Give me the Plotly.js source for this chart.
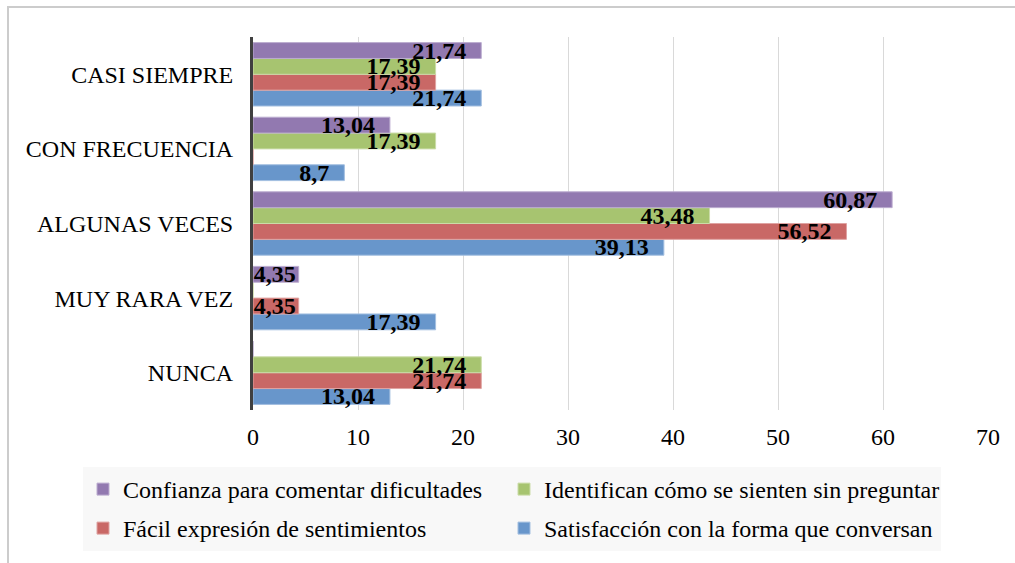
<!DOCTYPE html>
<html>
<head>
<meta charset="utf-8">
<script src="https://cdn.plot.ly/plotly-3.0.1.min.js"></script>
<style>html,body{margin:0;padding:0;background:#fff;}#chart{width:1015px;height:563px;}</style>
</head>
<body>
<div id="chart"></div>
<script>
// Categories, bottom to top
const categories = ['NUNCA', 'MUY RARA VEZ', 'ALGUNAS VECES', 'CON FRECUENCIA', 'CASI SIEMPRE'];

// Series values (same order as categories); 0 = no bar
const confianza    = [0,     4.35, 60.87, 13.04, 21.74];
const identifican  = [21.74, 0,    43.48, 17.39, 17.39];
const facil        = [21.74, 4.35, 56.52, 0,     17.39];
const satisfaccion = [13.04, 17.39, 39.13, 8.7,  21.74];

const seriesNames = {
  confianza: 'Confianza para comentar dificultades',
  identifican: 'Identifican cómo se sienten sin preguntar',
  facil: 'Fácil expresión de sentimientos',
  satisfaccion: 'Satisfacción con la forma que conversan'
};

const xTicks = [0, 10, 20, 30, 40, 50, 60, 70];

const FONT = '"Liberation Serif", "Times New Roman", serif';

function labels(vals) {
  return vals.map(v => {
    if (!v) return '';
    const s = String(v).replace('.', ',');
    return v < 6 ? s : s + '\u2002';
  });
}

function makeTrace(vals, name, fill, line, legendId, legendWidth) {
  return {
    type: 'bar',
    orientation: 'h',
    y: categories,
    x: vals,
    name: name,
    legend: legendId,
    legendwidth: legendWidth,
    marker: { color: fill, line: { color: line, width: 1 } },
    text: labels(vals),
    textposition: 'inside',
    insidetextanchor: 'end',
    constraintext: 'none',
    textangle: 0,
    cliponaxis: false,
    insidetextfont: { family: FONT, size: 24, color: '#000', weight: 'bold' },
    hoverinfo: 'x+name'
  };
}

// first trace sits at the bottom of each group
const data = [
  makeTrace(satisfaccion, seriesNames.satisfaccion, '#6896cb', '#a3bfe0', 'legend2', 392),
  makeTrace(facil, seriesNames.facil, '#c96866', '#dfa3a2', 'legend2', 376),
  makeTrace(identifican, seriesNames.identifican, '#a7c470', '#cbdca8', 'legend', 392),
  makeTrace(confianza, seriesNames.confianza, '#9279b0', '#bcadd0', 'legend', 376)
];

const W = 1015, H = 563;
const L = 253, R = 27, T = 37, B = 153;
const pw = W - L - R, ph = H - T - B;
const px2x = p => (p - L) / pw;
const px2y = p => (H - B - p) / ph;

function legendAt(topPx) {
  return {
    orientation: 'h',
    traceorder: 'reversed',
    x: px2x(83),
    xanchor: 'left',
    y: px2y(topPx),
    yanchor: 'top',
    bgcolor: '#f8f8f8',
    borderwidth: 0,
    font: { family: FONT, size: 24, color: '#000' }
  };
}

const layout = {
  width: W,
  height: H,
  margin: { l: L, r: R, t: T, b: B, pad: 0 },
  paper_bgcolor: '#ffffff',
  plot_bgcolor: '#ffffff',
  font: { family: FONT, size: 24, color: '#000' },
  barmode: 'group',
  bargap: 0.15,
  bargroupgap: 0,
  showlegend: true,
  xaxis: {
    range: [0, 70],
    tickvals: xTicks,
    ticktext: xTicks.map(String),
    showgrid: true,
    gridcolor: '#d9d9d9',
    gridwidth: 1,
    zeroline: false,
    showline: false,
    ticks: '',
    ticklabelstandoff: 10,
    tickfont: { family: FONT, size: 24, color: '#000' },
    fixedrange: true
  },
  yaxis: {
    type: 'category',
    categoryorder: 'array',
    categoryarray: categories,
    showgrid: false,
    zeroline: false,
    showline: true,
    linecolor: '#404040',
    linewidth: 3,
    ticks: '',
    ticklabelstandoff: 12,
    tickfont: { family: FONT, size: 24, color: '#000' },
    fixedrange: true
  },
  legend: legendAt(467),
  legend2: legendAt(506),
  shapes: [{
    type: 'rect',
    xref: 'paper', yref: 'paper',
    x0: px2x(8), x1: px2x(1040),
    y0: px2y(7), y1: px2y(600),
    line: { color: '#cccccc', width: 2 },
    fillcolor: 'rgba(0,0,0,0)',
    layer: 'below'
  }]
};

Plotly.newPlot('chart', data, layout, { displayModeBar: false, staticPlot: true });
</script>
</body>
</html>
